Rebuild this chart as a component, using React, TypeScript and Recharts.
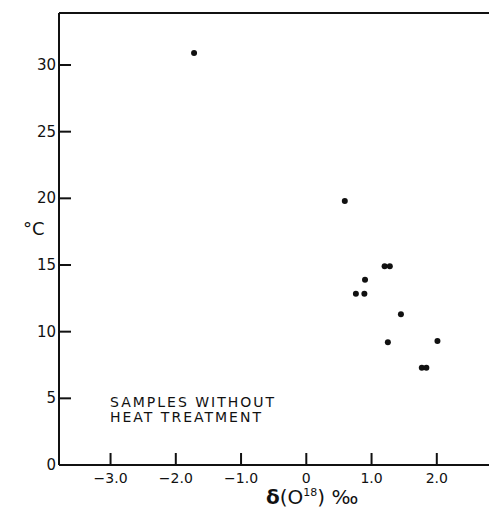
import React from "react";
import { ScatterChart, Scatter, XAxis, YAxis, ReferenceLine } from "recharts";

// δ(O18) ‰ vs °C, samples without heat treatment
const deltaO18 = [-1.72, 0.59, 1.2, 1.28, 0.9, 0.76, 0.89, 1.45, 1.25, 2.01, 1.77, 1.84];
const tempC = [30.9, 19.8, 14.9, 14.9, 13.9, 12.85, 12.85, 11.3, 9.2, 9.3, 7.3, 7.3];

const xTicks = [-3, -2, -1, 0, 1, 2];
const xTickLabels = ["−3.0", "−2.0", "−1.0", "0", "1.0", "2.0"];
const yTicks = [0, 5, 10, 15, 20, 25, 30];

const X_DOMAIN = [-3.79, 2.8];
const Y_DOMAIN = [0, 33.9];
const MARK = 12; // inward tick length, px

const INK = "#111";
const FONT = "'DejaVu Sans', 'Liberation Sans', sans-serif";

const data = deltaO18.map((d, i) => ({ x: d, y: tempC[i] }));

// negative tickSize puts the tick marks inside the plot; labels are pulled back outside
const renderXTick = (props: any) => {
  const { x, y, payload } = props;
  const idx = xTicks.indexOf(payload.value);
  return (
    <text x={x} y={y + MARK + 18} textAnchor="middle" fontSize={14} fontFamily={FONT} fill={INK}>
      {idx >= 0 ? xTickLabels[idx] : payload.value}
    </text>
  );
};

const renderYTick = (props: any) => {
  const { x, y, payload } = props;
  return (
    <text x={x - MARK - 3} y={y + 5} textAnchor="end" fontSize={15} fontFamily={FONT} fill={INK}>
      {payload.value}
    </text>
  );
};

const Dot = (p: any) => <circle cx={p.cx} cy={p.cy} r={3} fill={INK} />;

export default function App() {
  return (
    <div style={{ position: "absolute", left: 0, top: 0, width: 489, height: 508 }}>
      <ScatterChart width={489} height={508} margin={{ top: 13, right: 0, bottom: 0, left: 0 }}>
        <XAxis
          type="number"
          dataKey="x"
          domain={X_DOMAIN}
          ticks={xTicks}
          height={43}
          tickSize={-MARK}
          tickMargin={0}
          tick={renderXTick}
          tickLine={{ stroke: INK, strokeWidth: 2 }}
          axisLine={{ stroke: INK, strokeWidth: 2 }}
        />
        <YAxis
          type="number"
          dataKey="y"
          domain={Y_DOMAIN}
          ticks={yTicks}
          width={59}
          tickSize={-MARK}
          tickMargin={0}
          tick={renderYTick}
          tickLine={{ stroke: INK, strokeWidth: 2 }}
          axisLine={{ stroke: INK, strokeWidth: 2 }}
        />
        <ReferenceLine y={Y_DOMAIN[1]} stroke={INK} strokeWidth={2} ifOverflow="visible" />
        <Scatter data={data} shape={Dot} isAnimationActive={false} />
      </ScatterChart>
      <div style={{ position: "absolute", left: 23, top: 218, fontFamily: FONT, fontSize: 18, color: INK }}>
        °C
      </div>
      <div
        style={{
          position: "absolute",
          left: 110,
          top: 395,
          fontFamily: FONT,
          fontSize: 14,
          lineHeight: "15px",
          letterSpacing: 2,
          color: INK,
        }}
      >
        SAMPLES WITHOUT
        <br />
        HEAT TREATMENT
      </div>
      <div
        style={{
          position: "absolute",
          left: 266,
          top: 481,
          fontFamily: FONT,
          fontSize: 20,
          lineHeight: "24px",
          color: INK,
          whiteSpace: "nowrap",
        }}
      >
        <b>δ</b>(O<sup style={{ fontSize: 11 }}>18</sup>) ‰
      </div>
    </div>
  );
}
